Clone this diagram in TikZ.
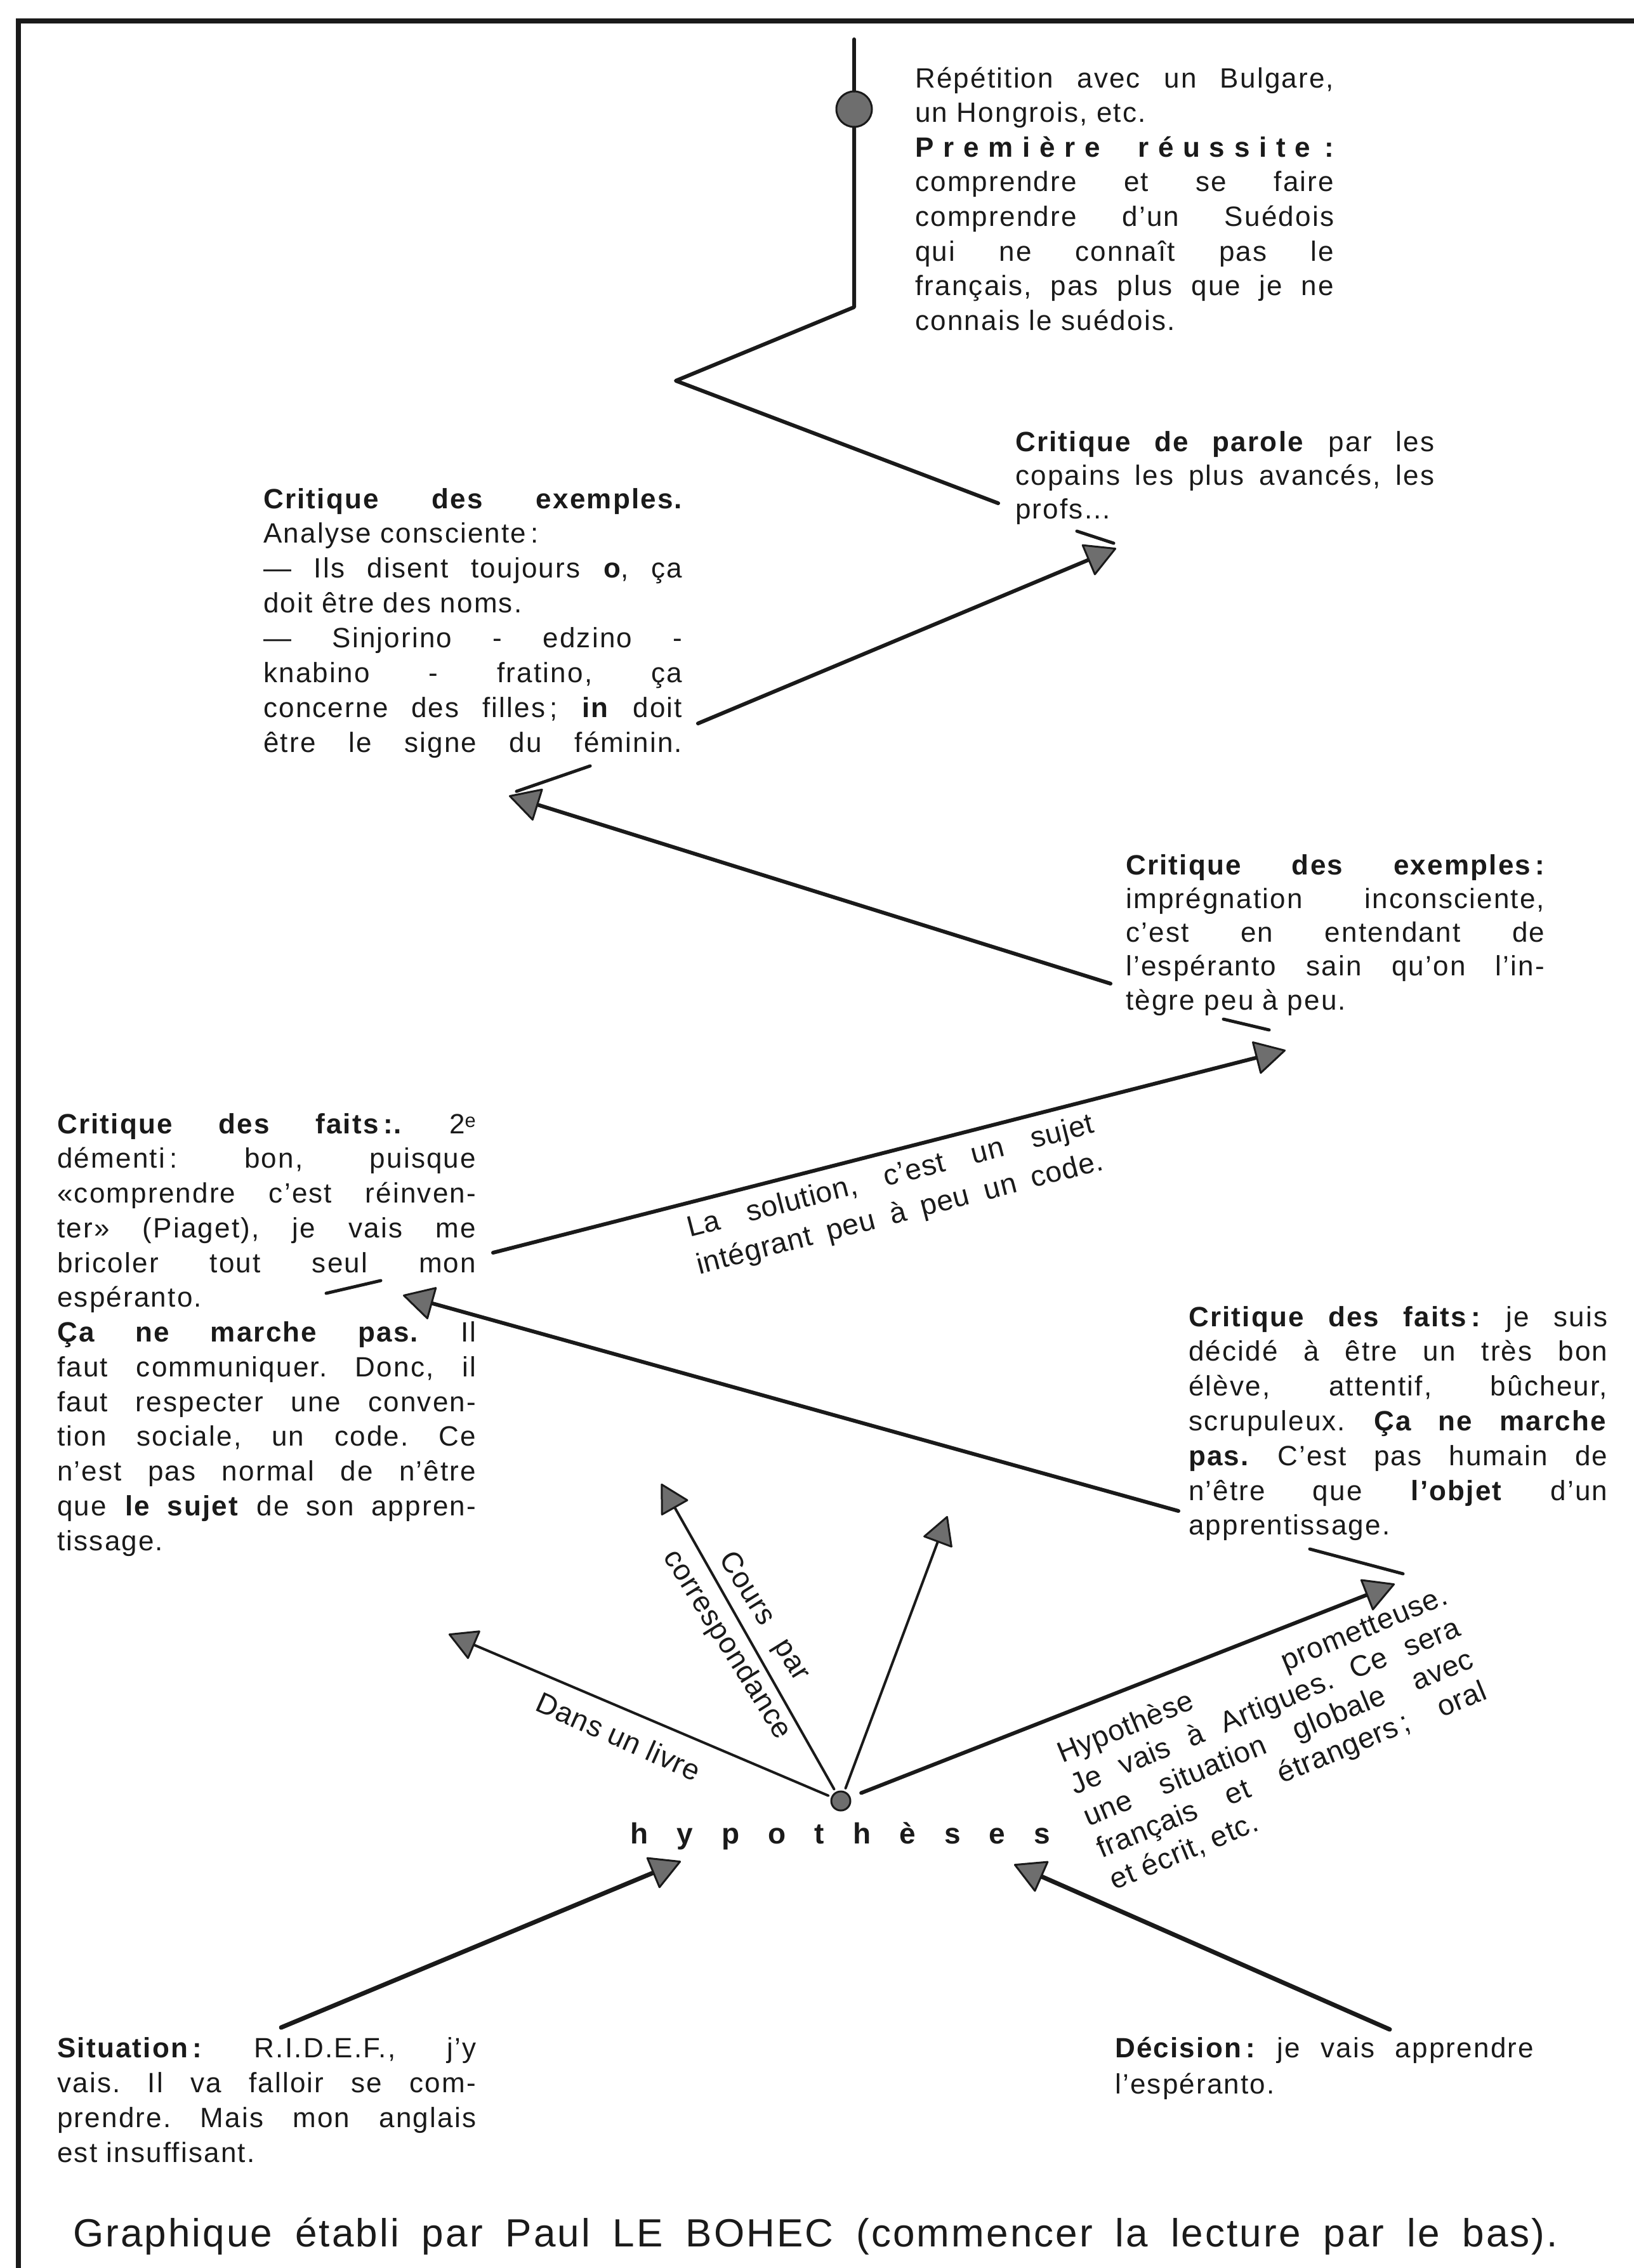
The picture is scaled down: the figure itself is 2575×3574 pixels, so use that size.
\documentclass[tikz,border=0pt]{standalone}
\usepackage{fontspec}
\setmainfont{Liberation Sans}[LetterSpace=5]
\newfontfamily\labfont{Liberation Sans}[LetterSpace=2]
\usetikzlibrary{arrows.meta}

\definecolor{ink}{HTML}{1A1A1A}
\definecolor{headfill}{HTML}{6E6E6E}

% justified text blocks, one box per printed line
\newlength\bw
\setlength\bw{660pt}
\newcommand\J[1]{\hbox to\bw{#1}}
\newcommand\Lf[1]{\hbox to\bw{#1\hfil}}
\newcommand\Blk[2]{\vtop{\baselineskip=#1\lineskiplimit=-200pt\lineskip=0pt #2}}

\tikzset{
  txt/.style={inner sep=0pt, anchor=base west, text=ink, font=\fontsize{44}{54.7}\selectfont},
  lab/.style={inner sep=0pt, text=ink, font=\labfont\fontsize{46}{58}\selectfont},
  conn/.style={draw=ink, line width=6pt, line cap=round, line join=round},
  arr/.style={conn, -{Triangle[length=50pt,width=54pt,fill=headfill,line width=3pt,round]}},
  farr/.style={draw=ink, line width=4pt, line cap=round, shorten <=5pt,
    -{Triangle[length=46pt,width=50pt,fill=headfill,line width=3pt,round]}},
  tick/.style={draw=ink, line width=5pt, line cap=round},
  dot/.style={circle, fill=headfill, draw=ink, line width=3pt, inner sep=0pt}
}

\begin{document}
\frenchspacing
\begin{tikzpicture}[x=1pt,y=-1pt]
\useasboundingbox (0,0) rectangle (2575,3574);
\fill[white] (0,0) rectangle (2575,3574);

% page frame (top and left rules)
\draw[ink, line width=8pt] (29,3574) -- (29,33) -- (2575,33);

% ---------- text blocks ----------
\node[txt] (rep) at (1442,138) {\Blk{54.6pt}{%
  \J{Répétition avec un Bulgare,}%
  \Lf{un Hongrois, etc.}%
  \J{\bfseries P\hfil r\hfil e\hfil m\hfil i\hfil è\hfil r\hfil e\hskip 0pt plus 4fil r\hfil é\hfil u\hfil s\hfil s\hfil i\hfil t\hfil e\hskip 0pt plus 1.5fil :}%
  \J{comprendre et se faire}%
  \J{comprendre d’un Suédois}%
  \J{qui ne connaît pas le}%
  \J{français, pas plus que je ne}%
  \Lf{connais le suédois.}}};

\node[txt] (parole) at (1600,711) {\Blk{53pt}{%
  \J{\textbf{Critique de parole} par les}%
  \J{copains les plus avancés, les}%
  \Lf{profs...}}};

\node[txt] (exA) at (415,801) {\Blk{54.9pt}{%
  \J{\bfseries Critique des exemples.}%
  \Lf{Analyse consciente\,:}%
  \J{— Ils disent toujours \textbf{o}, ça}%
  \Lf{doit être des noms.}%
  \J{— Sinjorino - edzino -}%
  \J{knabino - fratino, ça}%
  \J{concerne des filles\,; \textbf{in} doit}%
  \J{être le signe du féminin.}}};

\node[txt] (exB) at (1774,1378) {\Blk{53.3pt}{%
  \J{\bfseries Critique des exemples\,:}%
  \J{imprégnation inconsciente,}%
  \J{c’est en entendant de}%
  \J{l’espéranto sain qu’on l’in-}%
  \Lf{tègre peu à peu.}}};

\node[txt] (faitsA) at (90,1786) {\Blk{54.75pt}{%
  \J{\textbf{Critique des faits\,:.} 2\textsuperscript{e}}%
  \J{démenti\,: bon, puisque}%
  \J{«comprendre c’est réinven-}%
  \J{ter» (Piaget), je vais me}%
  \J{bricoler tout seul mon}%
  \Lf{espéranto.}%
  \J{\textbf{Ça ne marche pas.} Il}%
  \J{faut communiquer. Donc, il}%
  \J{faut respecter une conven-}%
  \J{tion sociale, un code. Ce}%
  \J{n’est pas normal de n’être}%
  \J{que \textbf{le sujet} de son appren-}%
  \Lf{tissage.}}};

\node[txt] (faitsB) at (1873,2090) {\Blk{54.8pt}{%
  \J{\textbf{Critique des faits\,:} je suis}%
  \J{décidé à être un très bon}%
  \J{élève, attentif, bûcheur,}%
  \J{scrupuleux. \textbf{Ça ne marche}}%
  \J{\textbf{pas.} C’est pas humain de}%
  \J{n’être que \textbf{l’objet} d’un}%
  \Lf{apprentissage.}}};

\node[txt] (sit) at (90,3242) {\Blk{55pt}{%
  \J{\textbf{Situation\,:} R.I.D.E.F., j’y}%
  \J{vais. Il va falloir se com-}%
  \J{prendre. Mais mon anglais}%
  \Lf{est insuffisant.}}};

\node[txt] (dec) at (1757,3242) {\Blk{57pt}{%
  \J{\textbf{Décision\,:} je vais apprendre}%
  \Lf{l’espéranto.}}};

% ---------- upper path ----------
\node[dot, minimum size=56pt] (d1) at (1346,172) {};
\coordinate (z0) at (1346,62);
\coordinate (z1) at (1346,484);
\coordinate (z2) at (1065,600);
\coordinate (z3) at (1573,793);
\draw[conn] (z0) -- (d1);
\draw[conn] (d1) -- (z1) -- (z2) -- (z3);

% ---------- arrows between the stages ----------
\coordinate (a1s) at (1100,1140);  \coordinate (a1e) at (1759,864);
\coordinate (a2s) at (1750,1550);  \coordinate (a2e) at (802,1254);
\coordinate (a3s) at (777,1974);   \coordinate (a3e) at (2026,1655);
\coordinate (a4s) at (1857,2381);  \coordinate (a4e) at (635,2041);
\coordinate (a5e) at (2198,2496);
\coordinate (a6s) at (443,3195);   \coordinate (a6e) at (1073,2933);
\coordinate (a7s) at (2190,3198);  \coordinate (a7e) at (1598,2938);

\draw[arr] (a1s) -- (a1e);
\draw[arr] (a2s) -- (a2e);
\draw[arr] (a3s) -- (a3e);
\draw[arr] (a4s) -- (a4e);
\draw[arr, line width=7pt] (a6s) -- (a6e);
\draw[arr, line width=7pt] (a7s) -- (a7e);

% hypotheses hub
\node[dot, minimum size=30pt] (d2) at (1325,2838) {};
\coordinate (f1e) at (707,2575);
\coordinate (f2e) at (1042,2338);
\coordinate (f3e) at (1493,2389);
\draw[farr] (d2) -- (f1e);
\draw[farr] (d2) -- (f2e);
\draw[farr] (d2) -- (f3e);
\draw[arr, shorten <=18pt] (d2) -- (a5e);

% short strokes beside the arrow heads
\coordinate (k1a) at (1697,837);  \coordinate (k1b) at (1755,856);
\coordinate (k2a) at (930,1207);  \coordinate (k2b) at (814,1247);
\coordinate (k3a) at (1928,1606); \coordinate (k3b) at (2000,1623);
\coordinate (k4a) at (514,2038);  \coordinate (k4b) at (600,2018);
\coordinate (k5a) at (2064,2441); \coordinate (k5b) at (2211,2480);
\draw[tick] (k1a) -- (k1b);
\draw[tick] (k2a) -- (k2b);
\draw[tick] (k3a) -- (k3b);
\draw[tick] (k4a) -- (k4b);
\draw[tick] (k5a) -- (k5b);

% ---------- labels along arrows ----------
\node[lab, rotate=14.5, anchor=base west] (solu) at (1087,1950) {\Blk{60pt}{%
  \J{La solution, c’est un sujet}%
  \J{intégrant peu à peu un code.}}};

\node[lab, rotate=22.5, anchor=base west] (hypo) at (1674,2779) {\Blk{54pt}{%
  \J{Hypothèse prometteuse.}%
  \J{Je vais à Artigues. Ce sera}%
  \J{une situation globale avec}%
  \J{français et étrangers\,; oral}%
  \Lf{et écrit, etc.}}};

\node[lab, rotate=-24] (livre) at (975,2736) {Dans un livre};
\node[lab, rotate=-58] (cours1) at (1203,2548) {\hbox to 230pt{Cours par}};
\node[lab, rotate=-58] (cours2) at (1145,2592) {correspondance};

\node[inner sep=0pt, anchor=base west, text=ink, font=\bfseries\fontsize{46}{50}\selectfont]
  (hyp) at (993,2905) {\hbox to 662pt{h\hfil y\hfil p\hfil o\hfil t\hfil h\hfil è\hfil s\hfil e\hfil s}};

% caption
\node[inner sep=0pt, anchor=base west, text=ink, font=\fontsize{62}{70}\selectfont]
  (caption) at (115,3540) {\hbox to 2340pt{Graphique établi par Paul LE BOHEC (commencer la lecture par le bas).}};
\end{tikzpicture}
\end{document}
